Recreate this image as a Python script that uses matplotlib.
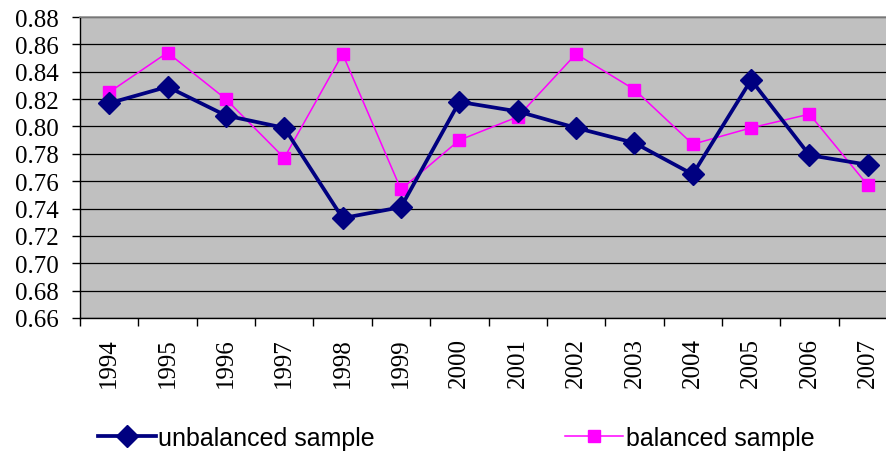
import numpy as np
import matplotlib
matplotlib.use('Agg')
import matplotlib.pyplot as plt
from matplotlib.ticker import MultipleLocator, FixedLocator

# data
years = ['1994', '1995', '1996', '1997', '1998', '1999', '2000',
         '2001', '2002', '2003', '2004', '2005', '2006', '2007']
unbalanced = [0.817, 0.829, 0.808, 0.799, 0.733, 0.741, 0.818,
              0.811, 0.799, 0.788, 0.765, 0.834, 0.779, 0.772]
balanced = [0.825, 0.854, 0.820, 0.777, 0.853, 0.754, 0.790,
            0.807, 0.853, 0.827, 0.787, 0.799, 0.809, 0.757]

plt.rcParams['font.family'] = ['Liberation Serif', 'DejaVu Serif']

fig = plt.figure(figsize=(8.86, 4.52), dpi=100)
# plot area runs a little past the right edge of the image, as in the reference
ax = fig.add_axes([80 / 886, 1 - 319 / 452, 817 / 886, 301 / 452])
ax.set_facecolor('#c0c0c0')

x = np.arange(len(years))
l1, = ax.plot(x, unbalanced, color='#000080', lw=2.7, marker='D',
              markersize=11, zorder=4)
l2, = ax.plot(x, balanced, color='#ff00ff', lw=1.1, marker='s',
              markersize=9, zorder=3)

# y axis
ax.set_ylim(0.66, 0.88)
ax.yaxis.set_major_locator(MultipleLocator(0.02))
ax.yaxis.set_major_formatter(plt.FuncFormatter(lambda v, p: f'{v:.2f}'))
ax.grid(axis='y', color='black', lw=0.9)
ax.set_axisbelow(True)

# x axis: labels at centers, tick marks at boundaries
ax.set_xlim(-0.5, len(years) - 0.5)
ax.set_xticks(x)
ax.set_xticklabels(years, rotation=90)
ax.xaxis.set_minor_locator(FixedLocator(np.arange(-0.5, len(years), 1.0)))
ax.tick_params(axis='x', which='major', length=0, pad=14, labelsize=18)
ax.tick_params(axis='x', which='minor', length=6, width=1, color='black',
               direction='out')
ax.tick_params(axis='y', length=6, width=1, direction='out', pad=9,
               labelsize=18)

for s in ['left', 'bottom']:
    ax.spines[s].set_color('black')
    ax.spines[s].set_linewidth(1)
ax.spines['top'].set_color('#909090')
ax.spines['top'].set_linewidth(1.2)
ax.spines['right'].set_visible(False)

# legend at bottom
fig.legend([l1, l2], ['unbalanced sample', 'balanced sample'],
           loc='center left', bbox_to_anchor=(98 / 886, 1 - 439 / 452),
           ncol=2, frameon=False, handlelength=2.3, handletextpad=0.12,
           columnspacing=7.6, borderpad=0, borderaxespad=0,
           prop={'family': 'Liberation Sans', 'size': 18})

fig.savefig('out.png', dpi=100)
